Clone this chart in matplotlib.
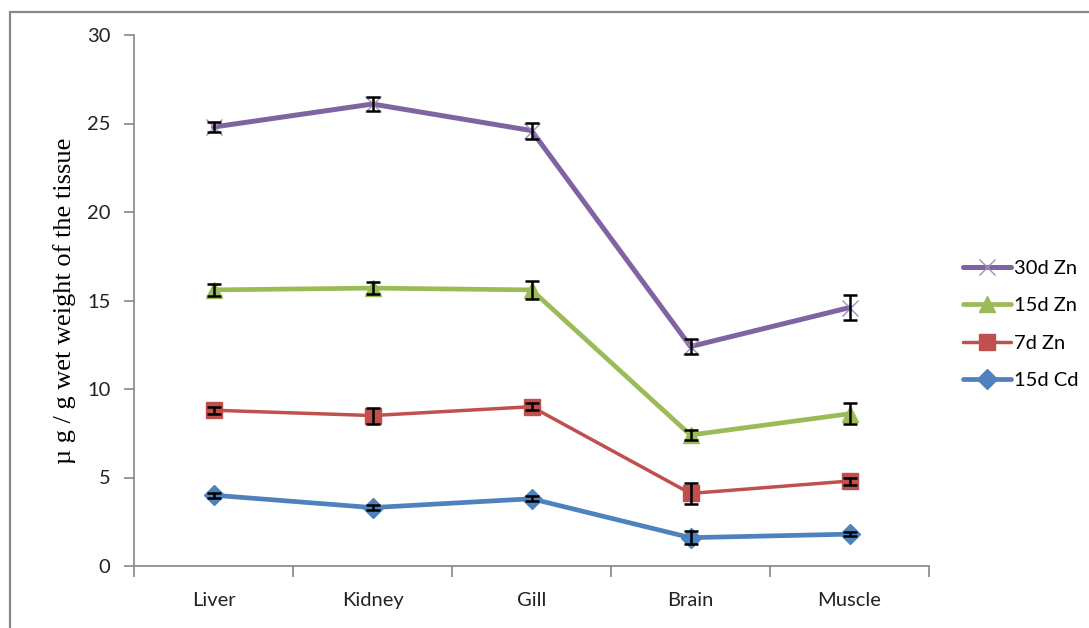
import matplotlib
matplotlib.use("Agg")
import matplotlib.pyplot as plt
from matplotlib.patches import Rectangle

tissues = ["Liver", "Kidney", "Gill", "Brain", "Muscle"]

zn30 = [24.8, 26.1, 24.6, 12.4, 14.6]
zn30_err = [0.3, 0.4, 0.45, 0.4, 0.7]
zn15 = [15.6, 15.7, 15.6, 7.4, 8.6]
zn15_err = [0.35, 0.35, 0.5, 0.3, 0.6]
zn7 = [8.8, 8.5, 9.0, 4.1, 4.8]
zn7_err = [0.2, 0.45, 0.2, 0.6, 0.2]
cd15 = [4.0, 3.3, 3.8, 1.6, 1.8]
cd15_err = [0.15, 0.15, 0.15, 0.35, 0.1]

y_ticks = [0, 5, 10, 15, 20, 25, 30]

series = [
    # label, values, errors, colour, marker, marker size, line width
    ("15d Cd", cd15, cd15_err, "#4F81BD", "D", 10, 3.4),
    ("7d Zn", zn7, zn7_err, "#C0504D", "s", 12, 2.5),
    ("15d Zn", zn15, zn15_err, "#9BBB59", "^", 12, 3.4),
    ("30d Zn", zn30, zn30_err, "#8064A2", "x", 12, 3.6),
]

W, H = 1089, 628
fig = plt.figure(figsize=(W / 100, H / 100), dpi=100)
fig.patch.set_facecolor("white")

# outer chart frame (left and top edges visible)
fig.patches.append(Rectangle((10 / W, -0.1), 1.2, (H - 12) / H + 0.1,
                             transform=fig.transFigure, fill=False,
                             edgecolor="#888888", linewidth=1.6))

ax = fig.add_axes([134 / W, 62 / H, (929 - 134) / W, (566 - 35) / H])
x = list(range(len(tissues)))

handles = {}
for label, vals, errs, col, mk, ms, lw in series:
    ax.errorbar(x, vals, yerr=errs, fmt="none", ecolor="black",
                elinewidth=1.8, capsize=5, capthick=1.8, zorder=3)
    if mk == "x":
        ln, = ax.plot(x, vals, color=col, lw=lw, marker=mk, ms=ms,
                      mew=1.0, mec="#9F8CC0", zorder=2,
                      solid_capstyle="round")
    else:
        ln, = ax.plot(x, vals, color=col, lw=lw, marker=mk, ms=ms,
                      mec=col, zorder=2, solid_capstyle="round")
    handles[label] = ln

ax.set_xlim(-0.5, len(tissues) - 0.5)
ax.set_ylim(0, 30)
ax.set_yticks(y_ticks)
ax.set_xticks([i + 0.5 for i in range(-1, len(tissues))], minor=False)
ax.set_xticklabels([])
ax.set_xticks(x, minor=True)
ax.set_xticklabels(tissues, minor=True)

axis_col = "#868686"
for s in ["top", "right"]:
    ax.spines[s].set_visible(False)
for s in ["left", "bottom"]:
    ax.spines[s].set_color(axis_col)
    ax.spines[s].set_linewidth(1.2)

tick_font = "Lato"
ax.tick_params(axis="y", which="major", direction="out", length=7,
               color=axis_col, width=1.2, labelsize=14.5, pad=10)
ax.tick_params(axis="x", which="major", direction="out", length=8,
               color=axis_col, width=1.2)
ax.tick_params(axis="x", which="minor", length=0, labelsize=14.5, pad=19)
for lab in ax.get_yticklabels() + ax.get_xticklabels(minor=True):
    lab.set_fontfamily(tick_font)
    lab.set_color("#222222")

ax.set_ylabel("µ g / g wet weight of the tissue", family="Liberation Serif",
              fontsize=19, labelpad=8)

order = ["30d Zn", "15d Zn", "7d Zn", "15d Cd"]
leg = ax.legend([handles[k] for k in order], order, loc="center left",
                bbox_to_anchor=(1.02, 0.455), frameon=False,
                prop={"family": tick_font, "size": 14.5},
                handlelength=2.4, handletextpad=0.15, labelspacing=1.0)

fig.savefig("out.png", dpi=100, facecolor="white")
